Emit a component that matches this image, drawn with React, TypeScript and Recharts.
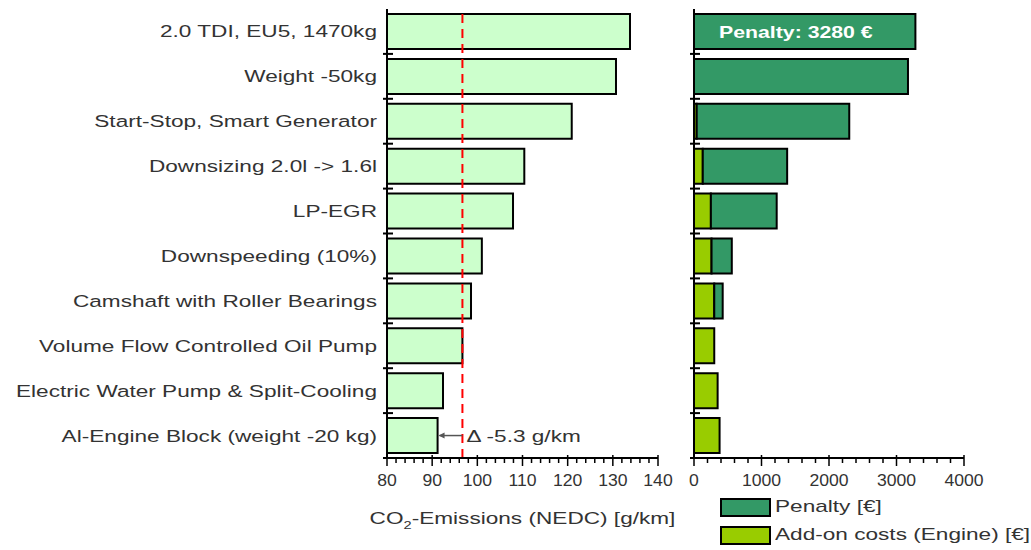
import { Bar, BarChart, ReferenceLine, XAxis, YAxis } from 'recharts';

const categories = [
  '2.0 TDI, EU5, 1470kg',
  'Weight -50kg',
  'Start-Stop, Smart Generator',
  'Downsizing 2.0l -> 1.6l',
  'LP-EGR',
  'Downspeeding (10%)',
  'Camshaft with Roller Bearings',
  'Volume Flow Controlled Oil Pump',
  'Electric Water Pump & Split-Cooling',
  'Al-Engine Block (weight -20 kg)',
];
const co2 = [133.8, 130.7, 120.9, 110.4, 107.9, 101.0, 98.6, 96.7, 92.4, 91.2];
const addOnCosts = [0, 0, 40, 130, 250, 260, 300, 300, 350, 379];
const penalty = [3280, 3170, 2260, 1250, 975, 300, 125, 0, 0, 0];
const targetLine = 96.7;
const co2Ticks = [80, 82, 84, 86, 88, 90, 92, 94, 96, 98, 100, 102, 104, 106, 108, 110, 112, 114, 116, 118, 120, 122, 124, 126, 128, 130, 132, 134, 136, 138, 140];
const costTicks = [0, 200, 400, 600, 800, 1000, 1200, 1400, 1600, 1800, 2000, 2200, 2400, 2600, 2800, 3000, 3200, 3400, 3600, 3800, 4000];

const data = categories.map((name, i) => ({
  name,
  co2: co2[i],
  addOn: addOnCosts[i],
  penalty: penalty[i],
}));

const FONT = '"Liberation Sans", Arial, sans-serif';
const HALF_BAND = 22.45;
// the source rendering uses a noticeably wide sans, so text is stretched horizontally
const STRETCH = 1.33;

// text anchored at (x, y) and widened horizontally
function WideText({ x, y, scale = STRETCH, children, ...rest }: any) {
  return (
    <text transform={`translate(${x},${y}) scale(${scale},1)`} x={0} y={0} fontFamily={FONT} {...rest}>
      {children}
    </text>
  );
}

function xTick(step: number) {
  return (props: any) => {
    const { x, y, payload } = props;
    const major = payload.value % step === 0;
    return (
      <g>
        <line x1={x} x2={x} y1={major ? y - 3 : y} y2={major ? y + 8 : y + 5} stroke="#000" strokeWidth={1.5} />
        {major && (
          <WideText x={x} y={y + 28} scale={1.1} textAnchor="middle" fontSize={16} fill="#333">
            {payload.value}
          </WideText>
        )}
      </g>
    );
  };
}

function yTick(showLabel: boolean) {
  return (props: any) => {
    const { x, y, payload } = props;
    return (
      <g>
        {showLabel && (
          <WideText x={x - 10} y={y + 6} textAnchor="end" fontSize={17} fill="#333">
            {payload.value}
          </WideText>
        )}
        <line x1={x - 4} x2={x + 6} y1={y + HALF_BAND} y2={y + HALF_BAND} stroke="#000" strokeWidth={2} />
      </g>
    );
  };
}

function DeltaArrow(props: any) {
  const { x1, y1, x2 } = props;
  const left = Math.min(x1, x2);
  const right = Math.max(x1, x2);
  return (
    <g>
      <line x1={left + 2} x2={right} y1={y1} y2={y1} stroke="#555" strokeWidth={1.5} />
      <path d={`M${left + 1},${y1} l6,-3 l0,6 z`} fill="#555" />
      <WideText x={right + 4} y={y1 + 6} fontSize={17} fill="#333">
        Δ -5.3 g/km
      </WideText>
    </g>
  );
}

function AxisTitle(props: any) {
  const { viewBox } = props;
  const cx = viewBox.x + viewBox.width / 2;
  return (
    <WideText x={cx} y={viewBox.y + 66} textAnchor="middle" fontSize={17} fill="#333">
      CO
      <tspan fontSize={11} dy={5}>2</tspan>
      <tspan dy={-5}>-Emissions (NEDC) [g/km]</tspan>
    </WideText>
  );
}

function penaltyLabel(props: any) {
  const { x, y, height, index } = props;
  if (index !== 0) return null;
  return (
    <WideText x={x + 25} y={y + height / 2 + 6} fontSize={16} fontWeight="bold" fill="#fff">
      {`Penalty: ${penalty[0]} €`}
    </WideText>
  );
}

function addOnLabel(props: any) {
  const { x, y, width, height, index } = props;
  if (index !== categories.length - 1) return null;
  return (
    <WideText x={x + width + 6} y={y + height / 2 + 6} fontSize={17} fontWeight="bold" fill="#111">
      {`Add-on costs: ${addOnCosts[categories.length - 1]}€`}
    </WideText>
  );
}

function LegendBox({ color, label, top }: { color: string; label: string; top: number }) {
  return (
    <div style={{ position: 'absolute', left: 720, top, display: 'flex', alignItems: 'center' }}>
      <div style={{ width: 47, height: 15, background: color, border: '2px solid #000' }} />
      <span
        style={{
          marginLeft: 4,
          fontSize: 17,
          color: '#333',
          fontFamily: FONT,
          whiteSpace: 'nowrap',
          display: 'inline-block',
          transform: `scaleX(${STRETCH})`,
          transformOrigin: 'left center',
        }}
      >
        {label}
      </span>
    </div>
  );
}

export default function App() {
  return (
    <div style={{ position: 'absolute', left: 0, top: 0, width: 1031, height: 550, background: '#fff', overflow: 'hidden' }}>
      <div style={{ position: 'absolute', left: 0, top: 0 }}>
        <BarChart width={700} height={550} data={data} layout="vertical" margin={{ top: 9, right: 42, bottom: 12, left: 0 }} barSize={35}>
          <XAxis
            type="number"
            domain={[80, 140]}
            ticks={co2Ticks}
            interval={0}
            allowDataOverflow
            height={80}
            tickSize={0}
            tickMargin={0}
            tickLine={false}
            axisLine={{ stroke: '#000', strokeWidth: 2 }}
            tick={xTick(10)}
            label={<AxisTitle />}
          />
          <XAxis xAxisId="top" orientation="top" type="number" domain={[80, 140]} height={0} tick={false} tickLine={false} axisLine={{ stroke: '#000', strokeWidth: 3 }} />
          <YAxis
            type="category"
            dataKey="name"
            width={387}
            tickSize={0}
            tickMargin={0}
            tickLine={false}
            interval={0}
            axisLine={{ stroke: '#000', strokeWidth: 2 }}
            tick={yTick(true)}
          />
          <YAxis yAxisId="right" orientation="right" type="category" dataKey="name" width={0} tick={false} tickLine={false} axisLine={{ stroke: '#000', strokeWidth: 2 }} />
          <Bar dataKey="co2" fill="#ccffcc" stroke="#000" strokeWidth={2} isAnimationActive={false} />
          <ReferenceLine x={targetLine} stroke="#ff0000" strokeWidth={2} strokeDasharray="9 6" />
          <ReferenceLine
            segment={[
              { x: co2[co2.length - 1], y: categories[categories.length - 1] },
              { x: targetLine, y: categories[categories.length - 1] },
            ]}
            shape={<DeltaArrow />}
          />
        </BarChart>
      </div>
      <div style={{ position: 'absolute', left: 680, top: 0 }}>
        <BarChart width={330} height={550} data={data} layout="vertical" margin={{ top: 9, right: 46, bottom: 12, left: 0 }} barSize={35}>
          <XAxis
            type="number"
            domain={[0, 4000]}
            ticks={costTicks}
            interval={0}
            height={80}
            tickSize={0}
            tickMargin={0}
            tickLine={false}
            axisLine={{ stroke: '#000', strokeWidth: 2 }}
            tick={xTick(1000)}
          />
          <XAxis xAxisId="top" orientation="top" type="number" domain={[0, 4000]} height={0} tick={false} tickLine={false} axisLine={{ stroke: '#000', strokeWidth: 3 }} />
          <YAxis
            type="category"
            dataKey="name"
            width={14}
            tickSize={0}
            tickMargin={0}
            tickLine={false}
            interval={0}
            axisLine={{ stroke: '#000', strokeWidth: 2 }}
            tick={yTick(false)}
          />
          <YAxis yAxisId="right" orientation="right" type="category" dataKey="name" width={0} tick={false} tickLine={false} axisLine={{ stroke: '#000', strokeWidth: 2 }} />
          <Bar dataKey="addOn" stackId="cost" fill="#99cc00" stroke="#000" strokeWidth={2} isAnimationActive={false} label={addOnLabel} />
          <Bar dataKey="penalty" stackId="cost" fill="#339966" stroke="#000" strokeWidth={2} isAnimationActive={false} label={penaltyLabel} />
        </BarChart>
      </div>
      <LegendBox color="#339966" label="Penalty [€]" top={497} />
      <LegendBox color="#99cc00" label="Add-on costs (Engine) [€]" top={525} />
    </div>
  );
}
